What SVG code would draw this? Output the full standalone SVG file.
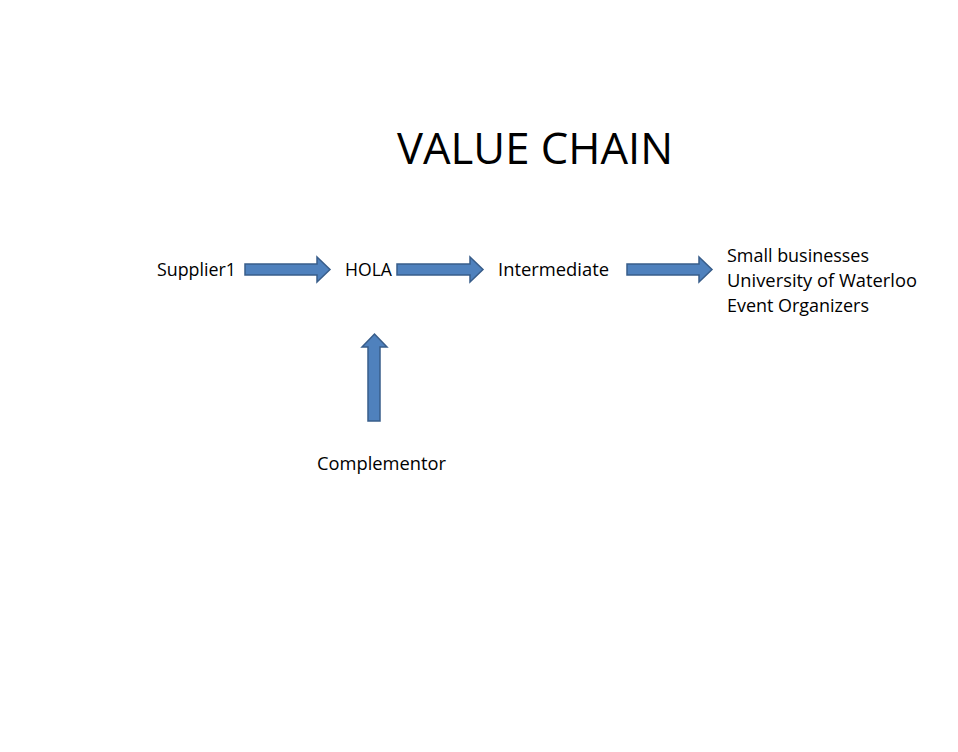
<svg xmlns="http://www.w3.org/2000/svg" width="958" height="752" viewBox="0 0 958 752">
<defs>
<style>
.t{font-family:"Open Sans","Liberation Sans",sans-serif;fill:#000;}
.s{font-size:18px;}
.title{font-size:43px;}
.arr{fill:#4F81BD;stroke:#385D8A;stroke-width:1.5;stroke-linejoin:miter;}
</style>
</defs>
<rect width="958" height="752" fill="#fff"/>
<text id="title" class="t title" x="397" y="164" textLength="276" lengthAdjust="spacingAndGlyphs">VALUE CHAIN</text>
<g id="supplier1"><text class="t s" x="157" y="276" textLength="79" lengthAdjust="spacingAndGlyphs">Supplier1</text></g>
<g id="hola"><text class="t s" x="345" y="276" textLength="47" lengthAdjust="spacingAndGlyphs">HOLA</text></g>
<g id="intermediate"><text class="t s" x="498" y="276" textLength="111" lengthAdjust="spacingAndGlyphs">Intermediate</text></g>
<g id="customers">
<text class="t s" x="727" y="262" textLength="142" lengthAdjust="spacingAndGlyphs">Small businesses</text>
<text class="t s" x="727" y="287" textLength="190" lengthAdjust="spacingAndGlyphs">University of Waterloo</text>
<text class="t s" x="727" y="312" textLength="142" lengthAdjust="spacingAndGlyphs">Event Organizers</text>
</g>
<g id="complementor"><text class="t s" x="317" y="470" textLength="129" lengthAdjust="spacingAndGlyphs">Complementor</text></g>
<g id="connectors">
<polygon class="arr" points="245,264 317,264 317,257 330,269.5 317,282 317,275 245,275"/>
<polygon class="arr" points="397,264 470,264 470,257 483,269.5 470,282 470,275 397,275"/>
<polygon class="arr" points="627,264 699,264 699,257 712,269.5 699,282 699,275 627,275"/>
<polygon class="arr" points="368,421 368,347 362,347 374.5,334 387,347 380,347 380,421"/>
</g>
</svg>
